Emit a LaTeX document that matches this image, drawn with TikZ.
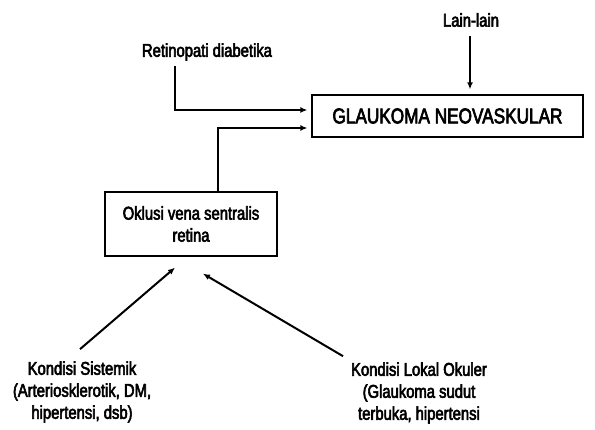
\documentclass[tikz,border=0pt]{standalone}
\usepackage{fontspec}
\setmainfont[FakeStretch=0.8,FakeBold=3]{Liberation Sans}
\usepackage{tikz}
\usetikzlibrary{arrows.meta,positioning,calc}

\begin{document}
\begin{tikzpicture}[
  x=1pt, y=-1pt,
  font=\fontsize{18.5}{22}\selectfont,
  lbl/.style={align=center, inner sep=1pt},
  bigbox/.style={draw=black, line width=1.3pt, minimum width=271pt, minimum height=42pt,
                 inner sep=2pt, font=\fontsize{21.5}{24}\selectfont},
  midbox/.style={draw=black, line width=1.3pt, minimum width=172pt, minimum height=64pt,
                 inner sep=2pt, align=center},
  arr/.style={-{Latex[length=7pt,width=6pt]}, draw=black, line width=2pt},
]
\useasboundingbox (0,0) rectangle (595,430);

% ============================================================
% TOP: target box and its inputs
% ============================================================
\node[bigbox] (glauk) at (447.5,116) {GLAUKOMA NEOVASKULAR};
\node[lbl] (lain)   at (471,20) {Lain-lain};
\node[lbl] (retino) at (207,52) {Retinopati diabetika};

\draw[arr] (lain.south -| 470,0) ++(0,8) -- ([yshift=5pt]glauk.north -| 470,0);
\draw[arr] ([xshift=-32pt,yshift=-4pt]retino.south) |- ([xshift=-4pt,yshift=6pt]glauk.west);

% ============================================================
% MIDDLE: retinal vein occlusion
% ============================================================
\node[midbox] (okl) at (191,224) {Oklusi vena sentralis\\ retina};
\draw[arr] ([xshift=27pt]okl.north) |- ([xshift=-4pt,yshift=-12pt]glauk.west);

% ============================================================
% BOTTOM: causes
% ============================================================
\node[lbl] (sist)  at (82,392)  {Kondisi Sistemik\\ (Arteriosklerotik, DM,\\ hipertensi, dsb)};
\node[lbl] (lokal) at (419,393) {Kondisi Lokal Okuler\\ (Glaukoma sudut\\ terbuka, hipertensi};

\draw[arr] ([xshift=-2pt,yshift=11pt]sist.north) -- ([xshift=-16pt,yshift=-11pt]okl.south);
\draw[arr] ([xshift=-76pt,yshift=5pt]lokal.north) -- ([xshift=12pt,yshift=-17pt]okl.south);

\end{tikzpicture}
\end{document}
